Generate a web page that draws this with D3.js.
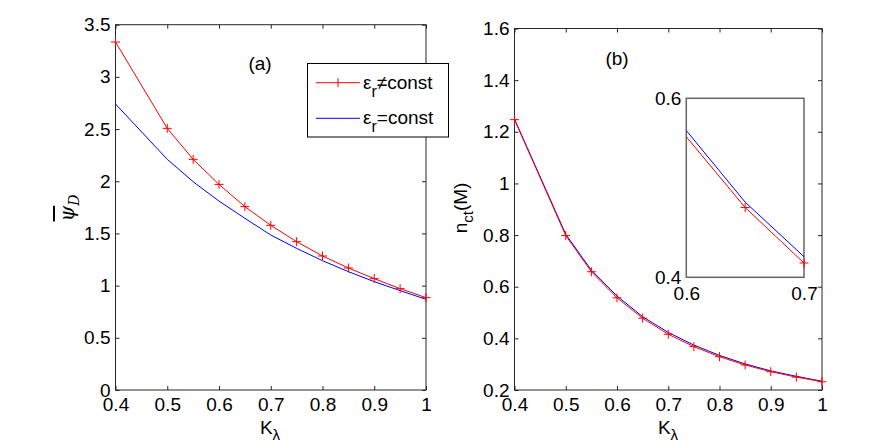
<!DOCTYPE html>
<html>
<head>
<meta charset="utf-8">
<script src="https://cdn.jsdelivr.net/npm/d3@7"></script>
<style>
  body { margin: 0; background: #fff; }
  svg { display: block; font-family: "Liberation Sans", Arial, sans-serif; }
  .tick text { font-size: 19px; fill: #000; }
</style>
</head>
<body>
<svg id="chart" width="885" height="446"></svg>
<script>
var width = 885, height = 446;

// data
var kLambda = [0.4, 0.5, 0.55, 0.6, 0.65, 0.7, 0.75, 0.8, 0.85, 0.9, 0.95, 1.0];
var psiVar = [3.334, 2.507, 2.21, 1.97, 1.757, 1.578, 1.421, 1.284, 1.169, 1.067, 0.971, 0.885];
var psiConst = [2.74, 2.21, 1.996, 1.81, 1.645, 1.485, 1.357, 1.239, 1.134, 1.038, 0.952, 0.869];
var nctVar = [1.247, 0.798, 0.658, 0.557, 0.478, 0.416, 0.368, 0.329, 0.297, 0.271, 0.250, 0.232];
var nctConst = [1.249, 0.803, 0.664, 0.564, 0.484, 0.423, 0.374, 0.334, 0.301, 0.274, 0.253, 0.234];

var xTicks = [0.4, 0.5, 0.6, 0.7, 0.8, 0.9, 1];
var psiTicks = [0, 0.5, 1, 1.5, 2, 2.5, 3, 3.5];
var nctTicks = [0.2, 0.4, 0.6, 0.8, 1, 1.2, 1.4, 1.6];
var insetXTicks = [0.6, 0.7];
var insetYTicks = [0.4, 0.6];

var legendLabels = ["≠const", "=const"];

var svg = d3.select('#chart');
var fmt = function (d) { return d3.format('~g')(d); };

function zip(xs, ys) {
    return xs.map(function (x, i) { return { x: x, y: ys[i] }; });
}

function drawPanel(box, xDomain, yDomain, xt, yt) {
    var x = d3.scaleLinear().domain(xDomain).range([box.x0, box.x1]);
    var y = d3.scaleLinear().domain(yDomain).range([box.y1, box.y0]);
    var g = svg.append('g');

    g.append('rect')
        .attr('x', box.x0).attr('y', box.y0)
        .attr('width', box.x1 - box.x0).attr('height', box.y1 - box.y0)
        .attr('fill', 'none').attr('stroke', '#262626').attr('stroke-width', 1);

    var axes = [
        [d3.axisBottom(x).tickValues(xt).tickFormat(fmt).tickPadding(8), 'translate(0,' + box.y1 + ')'],
        [d3.axisTop(x).tickValues(xt).tickFormat(''), 'translate(0,' + box.y0 + ')'],
        [d3.axisLeft(y).tickValues(yt).tickFormat(fmt).tickPadding(5), 'translate(' + box.x0 + ',0)'],
        [d3.axisRight(y).tickValues(yt).tickFormat(''), 'translate(' + box.x1 + ',0)']
    ];
    axes.forEach(function (a) {
        var ag = g.append('g').attr('transform', a[1])
            .call(a[0].tickSizeInner(-4).tickSizeOuter(0));
        ag.select('.domain').remove();
        ag.selectAll('line').attr('stroke', '#262626');
        ag.selectAll('text').attr('font-family', null).attr('font-size', null);
    });
    return { x: x, y: y, g: g };
}

function drawSeries(p, pts, color, markers, clipId) {
    var line = d3.line().x(function (d) { return p.x(d.x); }).y(function (d) { return p.y(d.y); });
    var path = p.g.append('path').datum(pts)
        .attr('d', line).attr('fill', 'none')
        .attr('stroke', color).attr('stroke-width', 1);
    if (clipId) path.attr('clip-path', 'url(#' + clipId + ')');
    if (markers) {
        p.g.selectAll(null).data(markers).enter().append('path')
            .attr('d', function (d) {
                var cx = p.x(d.x), cy = p.y(d.y);
                return 'M' + (cx - 4.5) + ',' + cy + 'H' + (cx + 4.5) + 'M' + cx + ',' + (cy - 4.5) + 'V' + (cy + 4.5);
            })
            .attr('stroke', color).attr('stroke-width', 1);
    }
}

// ---------- panel (a)
var pa = drawPanel({ x0: 115.5, x1: 426, y0: 24.7, y1: 390 }, [0.4, 1], [0, 3.5], xTicks, psiTicks);
drawSeries(pa, zip(kLambda, psiConst), '#0000ff');
drawSeries(pa, zip(kLambda, psiVar), '#ff0000', zip(kLambda, psiVar));

pa.g.append('text').attr('x', 260).attr('y', 70).attr('text-anchor', 'middle')
    .attr('font-size', 19).text('(a)');

var xl = pa.g.append('text').attr('x', 270).attr('y', 434).attr('text-anchor', 'middle').attr('font-size', 19);
xl.append('tspan').text('K');
xl.append('tspan').attr('dy', 6).attr('font-size', 15).text('λ');

var yl = pa.g.append('text')
    .attr('transform', 'translate(74,208) rotate(-90)')
    .attr('text-anchor', 'middle')
    .attr('font-family', '"DejaVu Serif", serif').attr('font-style', 'italic').attr('font-size', 20);
yl.append('tspan').attr('text-decoration', 'overline').text('ψ');
yl.append('tspan').attr('dy', 5).attr('font-size', 14).text('D');

// legend
var lg = svg.append('g');
lg.append('rect').attr('x', 307.5).attr('y', 63.5).attr('width', 141).attr('height', 73.5)
    .attr('fill', '#fff').attr('stroke', '#000').attr('stroke-width', 1);
[['#ff0000', true], ['#0000ff', false]].forEach(function (s, i) {
    var ly = 82.7 + i * 35.6;
    lg.append('line').attr('x1', 316).attr('x2', 360).attr('y1', ly).attr('y2', ly)
        .attr('stroke', s[0]).attr('stroke-width', 1);
    if (s[1]) {
        lg.append('line').attr('x1', 338).attr('x2', 338).attr('y1', ly - 4.5).attr('y2', ly + 4.5)
            .attr('stroke', s[0]).attr('stroke-width', 1);
    }
    var t = lg.append('text').attr('x', 363).attr('y', ly + 6).attr('font-size', 19);
    t.append('tspan').text('ε');
    t.append('tspan').attr('dy', 8).attr('font-size', 16).text('r');
    t.append('tspan').attr('dy', -8).text(legendLabels[i]);
});

// ---------- panel (b)
var pb = drawPanel({ x0: 514.5, x1: 822, y0: 28.5, y1: 390 }, [0.4, 1], [0.2, 1.6], xTicks, nctTicks);
drawSeries(pb, zip(kLambda, nctConst), '#0000ff');
drawSeries(pb, zip(kLambda, nctVar), '#ff0000', zip(kLambda, nctVar));

pb.g.append('text').attr('x', 617).attr('y', 65).attr('text-anchor', 'middle')
    .attr('font-size', 19).text('(b)');

var xl2 = pb.g.append('text').attr('x', 668).attr('y', 434).attr('text-anchor', 'middle').attr('font-size', 19);
xl2.append('tspan').text('K');
xl2.append('tspan').attr('dy', 6).attr('font-size', 15).text('λ');

var yl2 = pb.g.append('text')
    .attr('transform', 'translate(467,208) rotate(-90)')
    .attr('text-anchor', 'middle').attr('font-size', 19);
yl2.append('tspan').text('n');
yl2.append('tspan').attr('dy', 6).attr('font-size', 15).text('ct');
yl2.append('tspan').attr('dy', -6).text('(M)');

// ---------- inset
var ib = { x0: 686.3, x1: 804, y0: 98.3, y1: 277.3 };
svg.append('clipPath').attr('id', 'insetClip').append('rect')
    .attr('x', ib.x0).attr('y', ib.y0).attr('width', ib.x1 - ib.x0).attr('height', ib.y1 - ib.y0);
var ix = d3.scaleLinear().domain([0.6, 0.7]).range([ib.x0, ib.x1]);
var iy = d3.scaleLinear().domain([0.4, 0.6]).range([ib.y1, ib.y0]);
var ig = svg.append('g');
ig.append('rect').attr('x', ib.x0).attr('y', ib.y0)
    .attr('width', ib.x1 - ib.x0).attr('height', ib.y1 - ib.y0)
    .attr('fill', '#fff').attr('stroke', '#666').attr('stroke-width', 1.5);
var ip = { x: ix, y: iy, g: ig };
var inRange = function (d) { return d.x > 0.6 && d.x <= 0.7; };
drawSeries(ip, zip(kLambda, nctConst), '#0000ff', null, 'insetClip');
drawSeries(ip, zip(kLambda, nctVar), '#ff0000', zip(kLambda, nctVar).filter(inRange), 'insetClip');

ig.append('g').attr('transform', 'translate(0,' + ib.y1 + ')')
    .call(d3.axisBottom(ix).tickValues(insetXTicks).tickFormat(fmt).tickSize(0).tickPadding(9))
    .call(function (s) { s.select('.domain').remove(); });
ig.append('g').attr('transform', 'translate(' + ib.x0 + ',0)')
    .call(d3.axisLeft(iy).tickValues(insetYTicks).tickFormat(fmt).tickSize(0).tickPadding(5))
    .call(function (s) { s.select('.domain').remove(); });
ig.selectAll('.tick text').attr('font-family', null).attr('font-size', null);
</script>
</body>
</html>
